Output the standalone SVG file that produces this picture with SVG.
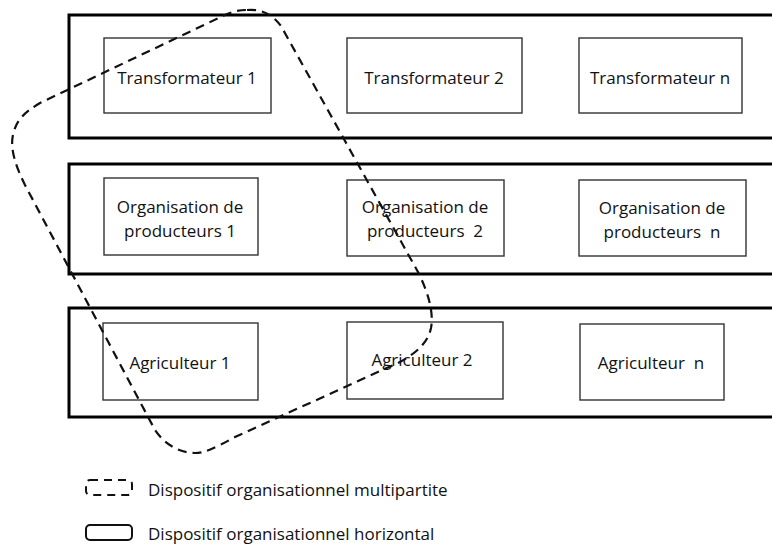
<svg xmlns="http://www.w3.org/2000/svg" width="772" height="544" viewBox="0 0 772 544">
<style>
.band{fill:none;stroke:#000;stroke-width:3}
.box{fill:#fff;stroke:#333;stroke-width:1.4}
.t{font-family:"Open Sans","Liberation Sans",sans-serif;font-size:17px;fill:#111;text-anchor:middle;dominant-baseline:central;white-space:pre}
.lg{font-family:"Open Sans","Liberation Sans",sans-serif;font-size:17px;fill:#111;dominant-baseline:central}
.dash{fill:none;stroke:#111;stroke-width:2.2;stroke-dasharray:9 6}
</style>
<rect width="772" height="544" fill="#fff"/>
<g id="bands">
<rect class="band" x="69" y="15" width="720" height="123"/>
<rect class="band" x="69" y="164" width="720" height="110"/>
<rect class="band" x="69" y="308" width="720" height="109"/>
</g>
<g id="transformateur1"><rect class="box" x="104" y="38" width="167" height="75"/><text class="t" x="187" y="77">Transformateur 1</text></g>
<g id="transformateur2"><rect class="box" x="347" y="38" width="175" height="75"/><text class="t" x="434" y="77">Transformateur 2</text></g>
<g id="transformateurn"><rect class="box" x="579" y="38" width="163" height="75"/><text class="t" x="660" y="77">Transformateur n</text></g>
<g id="op1"><rect class="box" x="104" y="178" width="154" height="77"/><text class="t" x="180" y="206">Organisation de</text><text class="t" x="180" y="230">producteurs 1</text></g>
<g id="op2"><rect class="box" x="347" y="180" width="157" height="76"/><text class="t" x="425" y="206">Organisation de</text><text class="t" x="425" y="230" xml:space="preserve">producteurs  2</text></g>
<g id="opn"><rect class="box" x="579" y="180" width="167" height="76"/><text class="t" x="662" y="207">Organisation de</text><text class="t" x="662" y="231" xml:space="preserve">producteurs  n</text></g>
<g id="agri1"><rect class="box" x="103" y="323" width="155" height="77"/><text class="t" x="180" y="362">Agriculteur 1</text></g>
<g id="agri2"><rect class="box" x="347" y="322" width="156" height="77"/><text class="t" x="422" y="359">Agriculteur 2</text></g>
<g id="agrin"><rect class="box" x="580" y="324" width="144" height="76"/><text class="t" x="651" y="362" xml:space="preserve">Agriculteur  n</text></g>
<g id="connectors">
<path class="dash" d="M247,10 C262,9 272,14 281,26 L418,272 C428,292 434,312 431,328 C428,342 418,352 400,362 L235,437 C215,448 205,453 195,453 C180,453 165,445 155,430 L25,185 C15,165 10,148 13,135 C16,120 25,112 40,103 L227,14 C235,11 240,10 247,10 Z"/>
</g>
<g id="legend">
<rect x="86" y="480" width="46" height="15" rx="4" fill="none" stroke="#111" stroke-width="2" stroke-dasharray="8 6"/>
<text class="lg" x="148" y="489">Dispositif organisationnel multipartite</text>
<rect x="86" y="525" width="46" height="15" rx="4" fill="none" stroke="#111" stroke-width="2"/>
<text class="lg" x="148" y="533">Dispositif organisationnel horizontal</text>
</g>
</svg>
